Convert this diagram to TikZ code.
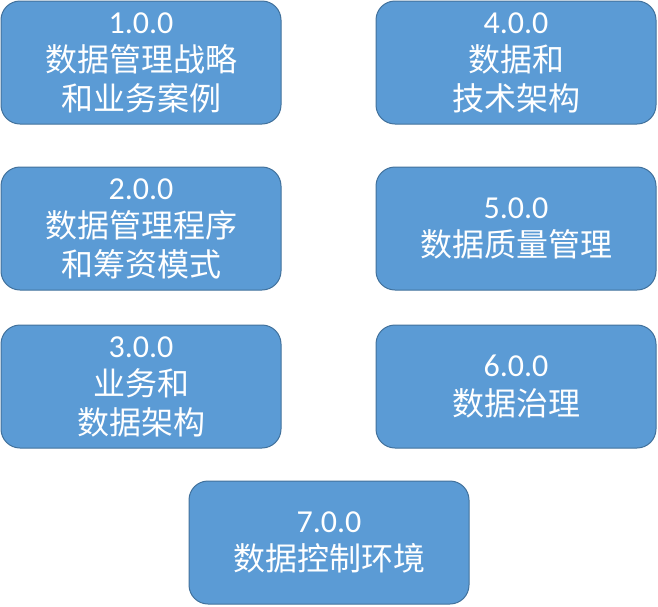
\documentclass[tikz,border=0pt]{standalone}
\usepackage{fontspec}
\setmainfont{Carlito}
\newfontfamily\cjk{Noto Sans CJK SC}
\definecolor{boxfill}{HTML}{5B9BD5}
\definecolor{boxline}{HTML}{41719C}
\tikzset{
  stage/.style={draw=boxline, line width=1pt, fill=boxfill, rounded corners=19pt,
    minimum width=280pt, minimum height=123pt, align=center, text=white,
    font=\fontsize{32}{38.5}\selectfont\cjk}
}
\begin{document}
\begin{tikzpicture}[x=1pt,y=-1pt]
\useasboundingbox (0,0) rectangle (658,606);

\node[stage] (s1) at (141,62.5) {{\rmfamily 1.0.0}\\数据管理战略\\和业务案例};
\node[stage] (s2) at (141,228.5) {{\rmfamily 2.0.0}\\数据管理程序\\和筹资模式};
\node[stage] (s3) at (141,386.5) {{\rmfamily 3.0.0}\\业务和\\数据架构};

\node[stage] (s4) at (516,62.5) {{\rmfamily 4.0.0}\\数据和\\技术架构};
\node[stage] (s5) at (516,228.5) {{\rmfamily 5.0.0}\\数据质量管理};
\node[stage] (s6) at (516,386.5) {{\rmfamily 6.0.0}\\数据治理};

\node[stage] (s7) at (329,542.5) {{\rmfamily 7.0.0}\\数据控制环境};

\end{tikzpicture}
\end{document}
